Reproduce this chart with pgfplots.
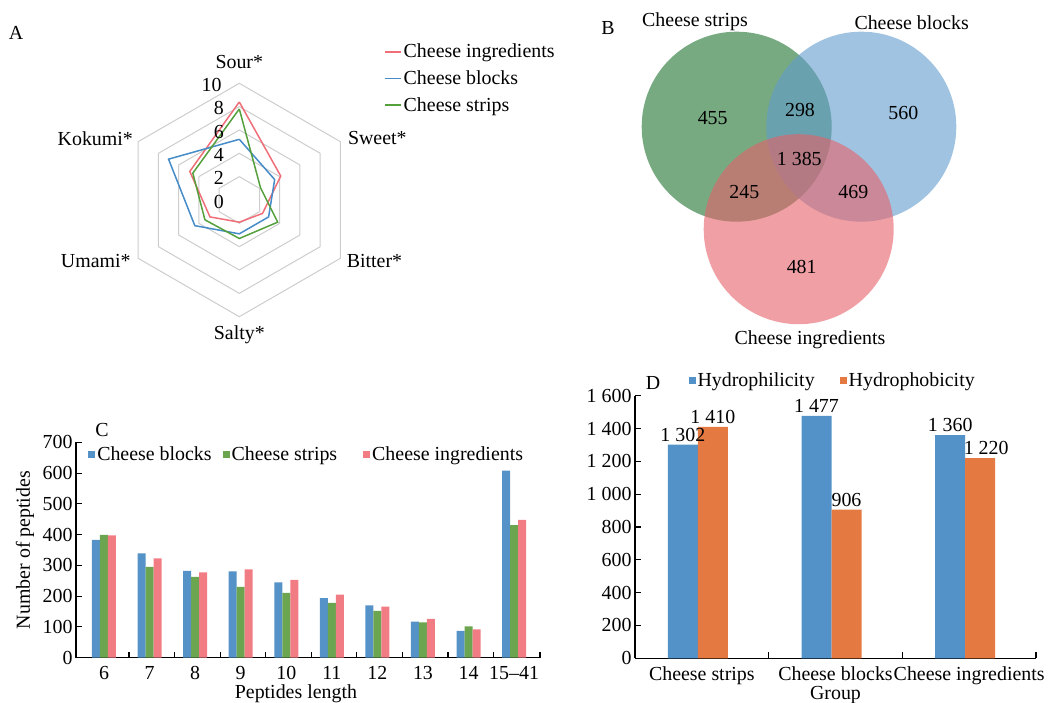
\documentclass[border=0pt]{standalone}
\usepackage{fontspec}
\setmainfont{Liberation Serif}
\usepackage{pgfplots}
\usepackage{pgfplotstable}
\pgfplotsset{compat=1.18}

\definecolor{cblue}{RGB}{84,146,199}
\definecolor{cgreen}{RGB}{107,165,79}
\definecolor{cred}{RGB}{242,124,132}
\definecolor{dblue}{RGB}{83,146,200}
\definecolor{dorange}{RGB}{229,121,66}
\definecolor{rred}{RGB}{240,110,120}
\definecolor{rblue}{RGB}{70,140,200}
\definecolor{rgreen}{RGB}{85,160,60}
\definecolor{rgrid}{RGB}{205,205,205}
\definecolor{vgreen}{RGB}{30,113,47}
\definecolor{vblue}{RGB}{97,155,205}
\definecolor{vred}{RGB}{230,97,105}

% radar data: angle, cheese ingredients, cheese blocks, cheese strips
\pgfplotstableread{
ang ingr blocks strips
90 8.4 5.2 7.8
30 4.1 3.5 2.1
-30 2.3 2.9 3.8
-90 1.9 2.9 3.3
-150 2.9 4.4 3.4
-210 4.9 7.0 4.6
-270 8.4 5.2 7.8
}\radartab

% peptide length data
\pgfplotstableread{
x blocks strips ingr
0 383 399 398
1 339 295 323
2 282 263 277
3 281 230 287
4 245 211 253
5 194 178 205
6 170 152 166
7 117 115 126
8 87 102 92
9 608 431 448
}\peptab

\pgfplotsset{
  /pgf/number format/assume math mode=true,
  every axis/.append style={font=\fontsize{19.9}{23}\selectfont},
}

\begin{document}
\begin{tikzpicture}[font=\fontsize{19.9}{23}\selectfont]

% panel letters
\node at (16pt,670pt) {A};
\node at (608pt,675pt) {B};
\node at (102pt,273pt) {C};
\node at (653pt,320pt) {D};

% ---------------- A: radar ----------------
\begin{axis}[at={(239.3pt,503pt)}, anchor=center, scale only axis,
  width=233.4pt, height=233.4pt,
  xmin=-10, xmax=10, ymin=-10, ymax=10,
  hide axis, clip=false,
  legend style={at={(1.12,1.177)}, anchor=north west, draw=none, fill=none,
    inner sep=0pt, row sep=7.3pt, nodes={inner sep=2pt}},
  legend cell align=left,
]
\addplot[rgrid, line width=1pt, data cs=polar, forget plot]
  coordinates {(90,2) (30,2) (-30,2) (-90,2) (-150,2) (150,2) (90,2)};
\addplot[rgrid, line width=1pt, data cs=polar, forget plot]
  coordinates {(90,4) (30,4) (-30,4) (-90,4) (-150,4) (150,4) (90,4)};
\addplot[rgrid, line width=1pt, data cs=polar, forget plot]
  coordinates {(90,6) (30,6) (-30,6) (-90,6) (-150,6) (150,6) (90,6)};
\addplot[rgrid, line width=1pt, data cs=polar, forget plot]
  coordinates {(90,8) (30,8) (-30,8) (-90,8) (-150,8) (150,8) (90,8)};
\addplot[rgrid, line width=1pt, data cs=polar, forget plot]
  coordinates {(90,10) (30,10) (-30,10) (-90,10) (-150,10) (150,10) (90,10)};
\addplot[rred, line width=1.5pt, data cs=polar,
  legend image code/.code={\draw[rred, line width=1.5pt] (0pt,0pt) -- (16pt,0pt);}]
  table[x=ang, y=ingr] {\radartab};
\addlegendentry{Cheese ingredients}
\addplot[rblue, line width=1.5pt, data cs=polar,
  legend image code/.code={\draw[rblue, line width=1.5pt] (0pt,0pt) -- (16pt,0pt);}]
  table[x=ang, y=blocks] {\radartab};
\addlegendentry{Cheese blocks}
\addplot[rgreen, line width=1.5pt, data cs=polar,
  legend image code/.code={\draw[rgreen, line width=1.5pt] (0pt,0pt) -- (16pt,0pt);}]
  table[x=ang, y=strips] {\radartab};
\addlegendentry{Cheese strips}
% tick labels
\node[anchor=east, inner sep=0pt] at (axis cs:-1.3,-0.15) {0};
\node[anchor=east, inner sep=0pt] at (axis cs:-1.3,1.85) {2};
\node[anchor=east, inner sep=0pt] at (axis cs:-1.3,3.85) {4};
\node[anchor=east, inner sep=0pt] at (axis cs:-1.3,5.85) {6};
\node[anchor=east, inner sep=0pt] at (axis cs:-1.3,7.85) {8};
\node[anchor=east, inner sep=0pt] at (axis cs:-1.5,9.85) {10};
\node at (axis cs:0,11.83) {Sour*};
\node[anchor=west, inner sep=0pt] at (axis cs:9.3,5.29) {Sweet*};
\node[anchor=west, inner sep=0pt] at (axis cs:9.2,-5.2) {Bitter*};
\node at (axis cs:0,-11.57) {Salty*};
\node[anchor=east, inner sep=0pt] at (axis cs:-9.3,-5.2) {Umami*};
\node[anchor=east, inner sep=0pt] at (axis cs:-9.1,5.29) {Kokumi*};
\end{axis}

% ---------------- B: Venn ----------------
\begin{axis}[at={(600pt,343pt)}, anchor=south west, scale only axis,
  width=400pt, height=360pt, xmin=600, xmax=1000, ymin=343, ymax=703,
  hide axis, clip=false]
\fill[vgreen, fill opacity=0.6] (axis cs:736.7,576.3) circle[radius=95];
\fill[vblue, fill opacity=0.6] (axis cs:861.3,576.3) circle[radius=95];
\fill[vred, fill opacity=0.6] (axis cs:798.7,473.8) circle[radius=95];
\node at (axis cs:695,681.3) {Cheese strips};
\node at (axis cs:911.7,680.3) {Cheese blocks};
\node at (axis cs:810,363.7) {Cheese ingredients};
\node at (axis cs:712.7,584.7) {455};
\node at (axis cs:800,593) {298};
\node at (axis cs:903.3,589.7) {560};
\node at (axis cs:799.3,543.7) {1\ 385};
\node at (axis cs:744.3,511.3) {245};
\node at (axis cs:853.3,511.3) {469};
\node at (axis cs:801.7,436.3) {481};
\end{axis}

% ---------------- C: peptide lengths ----------------
\begin{axis}[at={(76pt,45.3pt)}, anchor=south west, scale only axis,
  width=464pt, height=215.3pt,
  xmin=-0.614, xmax=9.568, ymin=0, ymax=700,
  axis lines=left, axis line style={-, line width=1.1pt},
  ybar=0pt, bar width=8pt,
  xtick={0.55,1.55,2.55,3.55,4.55,5.55,6.55,7.55,8.55,9.568},
  xticklabels={},
  extra x ticks={0,1,2,3,4,5,6,7,8,9},
  extra x tick labels={6,7,8,9,10,11,12,13,14,15--41},
  extra x tick style={major tick length=0pt},
  xticklabel style={yshift=-5pt},
  ytick={0,100,...,700},
  tick align=inside, major tick length=6pt,
  tick style={black, line width=1.1pt},
  xlabel={Peptides length},
  ylabel={Number of peptides},
  every axis x label/.style={at={(axis description cs:0.474,-0.168)}, anchor=center},
  every axis y label/.style={at={(axis description cs:-0.11,0.5)}, rotate=90, anchor=center},
  legend columns=3,
  legend style={at={(0.026,0.945)}, anchor=west, draw=none, fill=none, inner sep=0pt,
    /tikz/every even column/.append style={column sep=9pt}},
  legend image code/.code={\fill[#1] (0pt,-3.5pt) rectangle (7pt,3.5pt);},
]
\addplot[fill=cblue, draw=none] table[x=x, y=blocks] {\peptab};
\addlegendentry{Cheese blocks}
\addplot[fill=cgreen, draw=none] table[x=x, y=strips] {\peptab};
\addlegendentry{Cheese strips\hspace*{15pt}\mbox{}}
\addplot[fill=cred, draw=none] table[x=x, y=ingr] {\peptab};
\addlegendentry{Cheese ingredients}
\end{axis}

% ---------------- D: hydrophilicity ----------------
\begin{axis}[at={(635pt,44.7pt)}, anchor=south west, scale only axis,
  width=401pt, height=262.6pt,
  xmin=-0.5, xmax=2.5, ymin=0, ymax=1600,
  axis lines=left, axis line style={-, line width=1.1pt},
  ybar, bar width=30pt,
  xtick={0.5,1.5,2.5}, xticklabels={},
  extra x ticks={0,1,2},
  extra x tick labels={Cheese strips,Cheese blocks,Cheese ingredients},
  extra x tick style={major tick length=0pt},
  xticklabel style={yshift=-5pt},
  ytick={0,200,...,1600},
  yticklabels={0,200,400,600,800,1\ 000,1\ 200,1\ 400,1\ 600},
  tick align=inside, major tick length=6pt,
  tick style={black, line width=1.1pt},
  xlabel={Group},
  every axis x label/.style={at={(axis description cs:0.5,-0.14)}, anchor=center},
  point meta=explicit symbolic,
  nodes near coords,
  nodes near coords style={anchor=south, inner sep=3pt},
  legend columns=2,
  legend style={at={(0.133,1.057)}, anchor=west, draw=none, fill=none, inner sep=0pt,
    /tikz/every even column/.append style={column sep=23pt}},
  legend image code/.code={\fill[#1] (0pt,-3.5pt) rectangle (7pt,3.5pt);},
]
\addplot[fill=dblue, draw=none, bar shift=-19pt] coordinates {(0,1302) [1\ 302\hspace{14pt}] (1,1477) [1\ 477] (2,1360) [1\ 360]};
\addlegendentry{Hydrophilicity}
\addplot[fill=dorange, draw=none, bar shift=11pt] coordinates {(0,1410) [1\ 410] (1,906) [906] (2,1220) [\hspace{12pt}1\ 220]};
\addlegendentry{Hydrophobicity}
\end{axis}

\pgfresetboundingbox
\path[use as bounding box] (0pt,0pt) rectangle (1055pt,703pt);
\end{tikzpicture}
\end{document}
